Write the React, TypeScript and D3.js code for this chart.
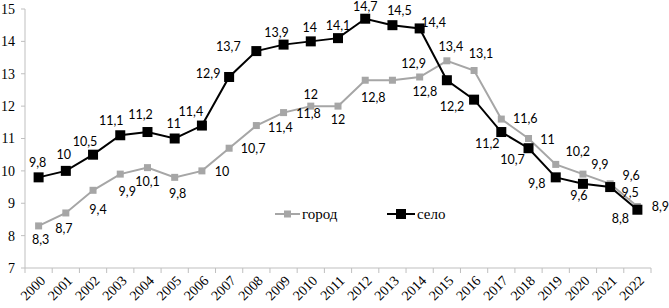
import React, { useEffect, useRef } from 'react';
import * as d3 from 'd3';

const years = ['2000', '2001', '2002', '2003', '2004', '2005', '2006', '2007', '2008', '2009', '2010', '2011',
  '2012', '2013', '2014', '2015', '2016', '2017', '2018', '2019', '2020', '2021', '2022'];
const gorod = [8.3, 8.7, 9.4, 9.9, 10.1, 9.8, 10, 10.7, 11.4, 11.8, 12, 12, 12.8, 12.8, 12.9, 13.4, 13.1, 11.6, 11, 10.2, 9.9, 9.6, 8.9];
const selo = [9.8, 10, 10.5, 11.1, 11.2, 11, 11.4, 12.9, 13.7, 13.9, 14, 14.1, 14.7, 14.5, 14.4, 12.8, 12.2, 11.2, 10.7, 9.8, 9.6, 9.5, 8.8];
const yTicks = [7, 8, 9, 10, 11, 12, 13, 14, 15];
const seriesNames = ['город', 'село'];

// where each data label sits relative to its point (null = label not shown)
const gorodLabelPos: ([number, number] | null)[] = [
  [2, 14], [-2, 16], [5, 19], [7, 18], [0, 14], [3, 16], [20, 1], [24, 0], [24, 2], [25, 1], [0, -12], [0, 13],
  [8, 17], null, [-6, -13], [4, -14], [7, -17], [24, 0], [19, 1], [22, -13], [17, -9], [21, -8], [23, 0],
];
const seloLabelPos: [number, number][] = [
  [-1, -15], [-2, -16], [-8, -13], [-9, -15], [-7, -17], [-1, -15], [-11, -14], [-21, -3], [-28, -4], [-7, -12],
  [-1, -14], [0, -13], [0, -12], [7, -15], [14, -6], [-22, 11], [-22, 7], [-14, 12], [-16, 11], [-19, 6],
  [-4, 12], [20, 6], [-17, 9],
];

const W = 669;
const H = 308;
const SERIF = 'Liberation Serif, Times New Roman, DejaVu Serif, serif';
const fmt = (v: number) => String(v).replace('.', ',');

function Chart() {
  const ref = useRef<SVGSVGElement>(null);

  useEffect(() => {
    const svg = d3.select(ref.current);
    svg.selectAll('*').remove();

    const x = d3.scaleBand().domain(years).range([25, 651]);
    const y = d3.scaleLinear().domain([7, 15]).range([268, 9]);
    const cx = (d: string) => (x(d) as number) + x.bandwidth() / 2;

    // y axis
    svg.append('line').attr('x1', 25).attr('x2', 25).attr('y1', y(15)).attr('y2', y(7))
      .attr('stroke', '#bfbfbf').attr('stroke-width', 1);
    const yt = svg.append('g');
    yt.selectAll('line').data(yTicks).enter().append('line')
      .attr('x1', 21).attr('x2', 25).attr('y1', (d) => y(d)).attr('y2', (d) => y(d))
      .attr('stroke', '#bfbfbf');
    yt.selectAll('text').data(yTicks).enter().append('text')
      .attr('x', 15).attr('y', (d) => y(d)).attr('dy', '0.35em')
      .attr('text-anchor', 'end')
      .attr('font-family', SERIF).attr('font-size', 14)
      .text((d) => d);

    // x axis
    svg.append('line').attr('x1', 25).attr('x2', 651).attr('y1', y(7)).attr('y2', y(7))
      .attr('stroke', '#bfbfbf');
    const bounds = years.map((d) => x(d) as number).concat([651]);
    svg.append('g').selectAll('line').data(bounds).enter().append('line')
      .attr('x1', (d) => d).attr('x2', (d) => d).attr('y1', y(7)).attr('y2', y(7) + 5)
      .attr('stroke', '#bfbfbf');
    svg.append('g').selectAll('text').data(years).enter().append('text')
      .attr('transform', (d) => `translate(${cx(d) + 4},${y(7) + 10}) rotate(-45)`)
      .attr('text-anchor', 'end').attr('dy', '0.35em')
      .attr('font-family', SERIF).attr('font-size', 14)
      .text((d) => d);

    const line = d3.line<number>().x((d, i) => cx(years[i])).y((d) => y(d));

    const drawSeries = (vals: number[], color: string, size: number, pos: ([number, number] | null)[]) => {
      const g = svg.append('g');
      g.append('path').datum(vals).attr('d', line).attr('fill', 'none')
        .attr('stroke', color).attr('stroke-width', 2);
      g.selectAll('rect').data(vals).enter().append('rect')
        .attr('x', (d, i) => cx(years[i]) - size / 2).attr('y', (d) => y(d) - size / 2)
        .attr('width', size).attr('height', size).attr('fill', color);
      const labels = vals
        .map((v, i) => ({ v, i, p: pos[i] }))
        .filter((d) => d.p !== null);
      g.selectAll('text').data(labels).enter().append('text')
        .attr('x', (d) => cx(years[d.i]) + (d.p as [number, number])[0])
        .attr('y', (d) => y(d.v) + (d.p as [number, number])[1])
        .attr('dy', '0.35em').attr('text-anchor', 'middle')
        .attr('font-family', 'Lato, sans-serif').attr('font-size', 12.5).attr('fill', '#000')
        .text((d) => fmt(d.v));
    };
    drawSeries(gorod, '#a6a6a6', 7, gorodLabelPos);
    drawSeries(selo, '#000000', 10, seloLabelPos);

    // legend
    const legend = [
      { name: seriesNames[0], color: '#a6a6a6', size: 7, x0: 275, x1: 300 },
      { name: seriesNames[1], color: '#000000', size: 10, x0: 387, x1: 415 },
    ];
    const lg = svg.append('g');
    legend.forEach((l) => {
      const ly = 214;
      lg.append('line').attr('x1', l.x0).attr('x2', l.x1).attr('y1', ly).attr('y2', ly)
        .attr('stroke', l.color).attr('stroke-width', 2);
      lg.append('rect').attr('x', (l.x0 + l.x1) / 2 - l.size / 2).attr('y', ly - l.size / 2)
        .attr('width', l.size).attr('height', l.size).attr('fill', l.color);
      lg.append('text').attr('x', l.x1 + 2).attr('y', ly).attr('dy', '0.32em')
        .attr('font-family', SERIF).attr('font-size', 15)
        .text(l.name);
    });
  }, []);

  return (
    <svg ref={ref} width={W} height={H}
      style={{ position: 'absolute', left: 0, top: 0, background: '#fff' }} />
  );
}

export default function App() {
  return <Chart />;
}
